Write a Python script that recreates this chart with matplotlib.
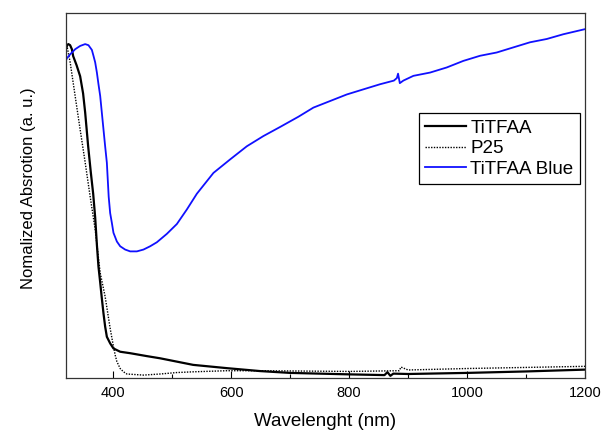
import matplotlib
matplotlib.use("Agg")
import matplotlib.pyplot as plt
from matplotlib.ticker import MultipleLocator

plt.rcParams['font.family'] = ['Liberation Sans', 'DejaVu Sans']

# TiTFAA (black solid)
titfaa_x = [320, 322, 324, 327, 330, 332.2, 338, 344, 349, 352.5, 357.6, 362.0, 366.1, 369.5,
            372.4, 375.1, 378.0, 380.8, 383.6, 386.4, 389.3, 394.9, 400.5, 411.9, 428.8, 457.1,
            479.7, 535.6, 593, 649, 700, 800, 860, 865, 870, 875, 900, 1000, 1100, 1200]
titfaa_y = [0.901, 0.912, 0.915, 0.912, 0.901, 0.882, 0.857, 0.827, 0.780, 0.728, 0.635, 0.565,
            0.505, 0.440, 0.365, 0.305, 0.262, 0.218, 0.177, 0.141, 0.113, 0.095, 0.081, 0.072,
            0.068, 0.060, 0.054, 0.036, 0.027, 0.019, 0.014, 0.010, 0.008, 0.016, 0.006, 0.012,
            0.011, 0.014, 0.018, 0.023]

# P25 (black dotted)
p25_x = [320.3, 322, 327.1, 335.6, 344, 352.5, 361, 369.5, 378, 386.4, 395, 400.5, 403.4,
         406.3, 411.9, 417.5, 423.2, 451.4, 479.7, 508, 536.1, 592.7, 649.2, 800, 885, 888,
         900, 1000, 1100, 1200]
p25_y = [0.912, 0.907, 0.865, 0.772, 0.681, 0.591, 0.497, 0.407, 0.288, 0.223, 0.135, 0.086,
         0.063, 0.045, 0.026, 0.017, 0.011, 0.008, 0.011, 0.015, 0.017, 0.020, 0.020, 0.018,
         0.020, 0.030, 0.022, 0.026, 0.029, 0.032]

# TiTFAA Blue (blue solid)
blue_x = [320, 321.5, 327.1, 335.6, 344.1, 352.5, 358.1, 363.9, 366.6, 369.5, 372.4, 375.1,
          378.0, 380.8, 383.6, 386.4, 389.3, 392.4, 394.9, 397.8, 400.5, 406.3, 411.9, 420.3,
          428.8, 440.2, 451.4, 462.7, 474.1, 491.0, 508.0, 525.0, 541.9, 570.0, 598.3, 626.6,
          654.7, 683.1, 714.1, 739.5, 767.8, 796.1, 824.2, 852.5, 876, 881, 883, 886, 892,
          909.0, 937.3, 965.6, 993.7, 1022.0, 1050.3, 1078.5, 1106.8, 1135.1, 1163.2, 1200]
blue_y = [0.870, 0.876, 0.887, 0.901, 0.910, 0.915, 0.912, 0.899, 0.883, 0.865, 0.837, 0.805,
          0.773, 0.727, 0.681, 0.635, 0.590, 0.497, 0.452, 0.425, 0.398, 0.374, 0.361, 0.352,
          0.347, 0.347, 0.352, 0.361, 0.372, 0.395, 0.422, 0.462, 0.505, 0.562, 0.599, 0.635,
          0.663, 0.688, 0.716, 0.741, 0.759, 0.777, 0.791, 0.805, 0.815, 0.822, 0.834, 0.808,
          0.815, 0.828, 0.837, 0.851, 0.869, 0.883, 0.892, 0.906, 0.920, 0.929, 0.942, 0.956]

fig = plt.figure(figsize=(6.02, 4.36), dpi=100)
ax = fig.add_axes([0.1096, 0.133, 0.8622, 0.837])

ax.plot(titfaa_x, titfaa_y, color='black', lw=1.6, label='TiTFAA')
ax.plot(p25_x, p25_y, color='black', lw=1.0, linestyle=(0, (1, 1)), label='P25')
ax.plot(blue_x, blue_y, color='#1010ff', lw=1.3, label='TiTFAA Blue')

ax.set_xlim(320, 1200)
ax.set_ylim(0, 1)
ax.set_xticks([400, 600, 800, 1000, 1200])
ax.xaxis.set_minor_locator(MultipleLocator(100))
ax.tick_params(axis='x', which='major', direction='in', length=5, width=0.8, labelsize=10.5, pad=6)
ax.tick_params(axis='x', which='minor', direction='in', length=3, width=0.8)
ax.set_yticks([])
for s in ax.spines.values():
    s.set_linewidth(0.9)
    s.set_color('#333333')

ax.set_xlabel('Wavelenght (nm)', fontsize=13.5, labelpad=9)
ax.set_ylabel('Nomalized Absrotion (a. u.)', fontsize=12)
ax.yaxis.set_label_coords(-0.058, 0.52)

leg = ax.legend(loc='upper right', bbox_to_anchor=(0.990, 0.726), fontsize=13.5,
                handlelength=2.2, labelspacing=0.18, handletextpad=0.2, borderpad=0.35,
                fancybox=False, framealpha=1, edgecolor='black', borderaxespad=0)
leg.get_frame().set_linewidth(0.9)

fig.savefig('out.png', dpi=100)
